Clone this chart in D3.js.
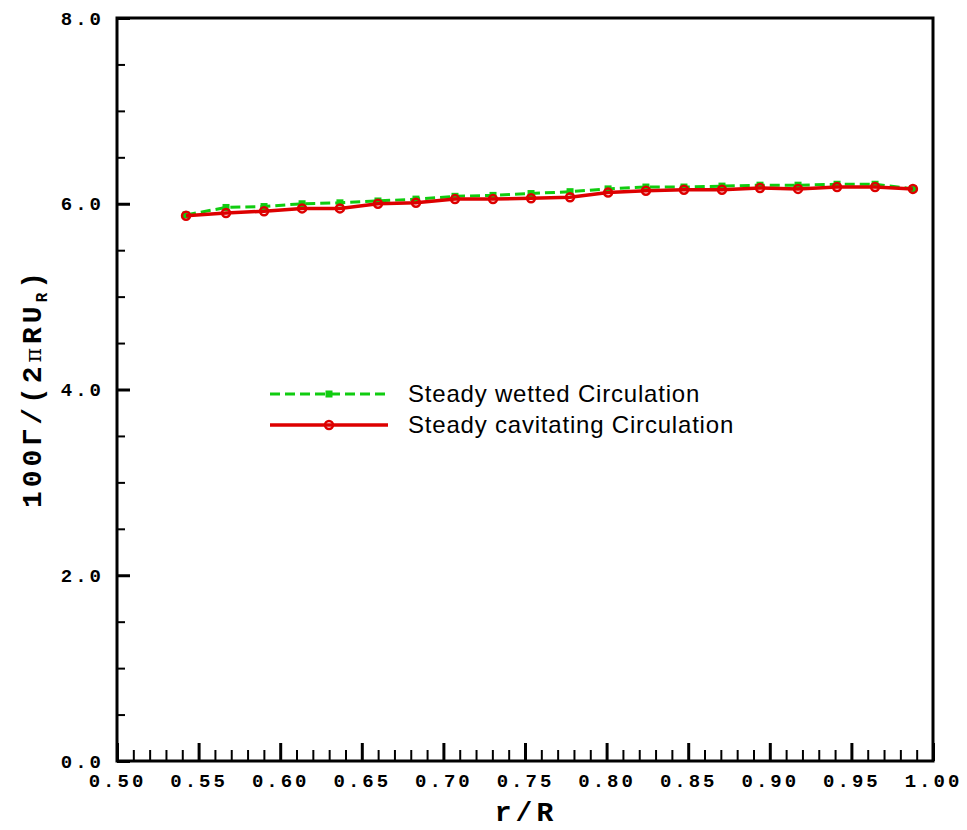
<!DOCTYPE html>
<html>
<head>
<meta charset="utf-8">
<script src="https://cdn.jsdelivr.net/npm/d3@7"></script>
<style>
  html, body { margin: 0; padding: 0; background: #fff; }
  svg { display: block; }
  .tick text { font-family: "Liberation Mono", "DejaVu Sans Mono", monospace; font-weight: bold; font-size: 19px; letter-spacing: 3px; fill: #000; }
</style>
</head>
<body>
<svg id="chart" width="967" height="830"></svg>
<script>
// Radial stations r/R
const radius = [0.5423, 0.5668, 0.5901, 0.6134, 0.6366, 0.6599, 0.6832, 0.7071, 0.7304, 0.7537,
                0.7776, 0.8009, 0.8241, 0.8474, 0.8707, 0.8940, 0.9173, 0.9412, 0.9645, 0.9877];
// Non-dimensional circulation 100Γ/(2πRU_R)
const wetted =     [5.88, 5.96, 5.97, 6.00, 6.01, 6.03, 6.05, 6.08, 6.09, 6.11,
                    6.13, 6.16, 6.18, 6.18, 6.19, 6.20, 6.20, 6.21, 6.21, 6.16];
const cavitating = [5.87, 5.90, 5.92, 5.95, 5.95, 6.00, 6.01, 6.05, 6.05, 6.06,
                    6.07, 6.12, 6.14, 6.15, 6.15, 6.17, 6.16, 6.18, 6.18, 6.16];
const seriesNames = ["Steady wetted Circulation", "Steady cavitating Circulation"];
const xMajor = [0.50, 0.55, 0.60, 0.65, 0.70, 0.75, 0.80, 0.85, 0.90, 0.95, 1.00];
const yMajor = [0, 2, 4, 6, 8];

const svg = d3.select("#chart");
const L = 117, R = 933, T = 18, B = 761;

const x = d3.scaleLinear().domain([0.5, 1.0]).range([L, R]);
const y = d3.scaleLinear().domain([0, 8]).range([B, T]);

const xMinor = d3.range(50, 101).map(v => v / 100).filter(v => Math.round(v * 100) % 5 !== 0);
const yMinor = d3.range(0, 8.01, 0.5).filter(v => v % 2 !== 0);

// minor ticks
svg.append("g").attr("transform", `translate(0,${B})`)
  .call(d3.axisBottom(x).tickValues(xMinor).tickSize(-11).tickFormat(""))
  .call(g => g.select(".domain").remove())
  .call(g => g.selectAll("line").attr("stroke", "#000").attr("stroke-width", 2));
svg.append("g").attr("transform", `translate(${L},0)`)
  .call(d3.axisLeft(y).tickValues(yMinor).tickSize(-8).tickFormat(""))
  .call(g => g.select(".domain").remove())
  .call(g => g.selectAll("line").attr("stroke", "#000").attr("stroke-width", 2));

// major ticks with labels
svg.append("g").attr("transform", `translate(0,${B})`)
  .call(d3.axisBottom(x).tickValues(xMajor).tickSize(-18).tickPadding(13).tickFormat(d3.format(".2f")))
  .call(g => g.select(".domain").remove())
  .call(g => g.selectAll("line").attr("stroke", "#000").attr("stroke-width", 3));
svg.append("g").attr("transform", `translate(${L},0)`)
  .call(d3.axisLeft(y).tickValues(yMajor).tickSize(-13).tickPadding(13).tickFormat(d3.format(".1f")))
  .call(g => g.select(".domain").remove())
  .call(g => g.selectAll("line").attr("stroke", "#000").attr("stroke-width", 3));

// frame
svg.append("rect").attr("x", L).attr("y", T).attr("width", R - L).attr("height", B - T)
  .attr("fill", "none").attr("stroke", "#000").attr("stroke-width", 3);

// axis titles
svg.append("text").attr("x", 526).attr("y", 821).attr("text-anchor", "middle")
  .attr("font-family", "Liberation Mono, monospace").attr("font-weight", "bold")
  .attr("font-size", 28).attr("letter-spacing", 4).text("r/R");

const yt = svg.append("text").attr("transform", "translate(41,388) rotate(-90)")
  .attr("text-anchor", "middle")
  .attr("font-family", "Liberation Mono, monospace").attr("font-weight", "bold")
  .attr("font-size", 28).attr("letter-spacing", 4);
yt.append("tspan").text("100Γ/(2");
yt.append("tspan").attr("font-family", "DejaVu Serif, serif").attr("font-weight", "normal").attr("font-size", 22).text("π");
yt.append("tspan").text("RU");
yt.append("tspan").attr("font-size", 16).attr("dy", 6).text("R");
yt.append("tspan").attr("dy", -6).text(")");

const line = d3.line().x((d, i) => x(radius[i])).y(d => y(d));
const green = "#10cc10", red = "#dd0000";

// wetted series: dashed green with square markers
svg.append("path").datum(wetted).attr("d", line)
  .attr("fill", "none").attr("stroke", green).attr("stroke-width", 3).attr("stroke-dasharray", "10,5");
svg.append("g").selectAll("rect").data(wetted).join("rect")
  .attr("x", (d, i) => x(radius[i]) - 3.5).attr("y", d => y(d) - 3.5)
  .attr("width", 7).attr("height", 7).attr("fill", green);

// cavitating series: solid red with open circles
svg.append("path").datum(cavitating).attr("d", line)
  .attr("fill", "none").attr("stroke", red).attr("stroke-width", 3.5);
svg.append("g").selectAll("circle").data(cavitating).join("circle")
  .attr("cx", (d, i) => x(radius[i])).attr("cy", d => y(d)).attr("r", 4)
  .attr("fill", "none").attr("stroke", red).attr("stroke-width", 2.5);

// legend
const lg = svg.append("g");
const legendRows = [
  { name: seriesNames[0], y: 394, color: green, dash: "10,5", marker: "square" },
  { name: seriesNames[1], y: 425, color: red, dash: null, marker: "circle" }
];
legendRows.forEach(r => {
  lg.append("line").attr("x1", 270).attr("x2", 388).attr("y1", r.y).attr("y2", r.y)
    .attr("stroke", r.color).attr("stroke-width", r.marker === "circle" ? 3.5 : 3)
    .attr("stroke-dasharray", r.dash);
  if (r.marker === "square") {
    lg.append("rect").attr("x", 325.5).attr("y", r.y - 3.5).attr("width", 7).attr("height", 7).attr("fill", r.color);
  } else {
    lg.append("circle").attr("cx", 329).attr("cy", r.y).attr("r", 4)
      .attr("fill", "none").attr("stroke", r.color).attr("stroke-width", 2.5);
  }
  lg.append("text").attr("x", 408).attr("y", r.y + 8)
    .attr("font-family", "Liberation Sans, Arial, sans-serif").attr("font-size", 24)
    .attr("letter-spacing", 0.8).attr("fill", "#000").text(r.name);
});
</script>
</body>
</html>
